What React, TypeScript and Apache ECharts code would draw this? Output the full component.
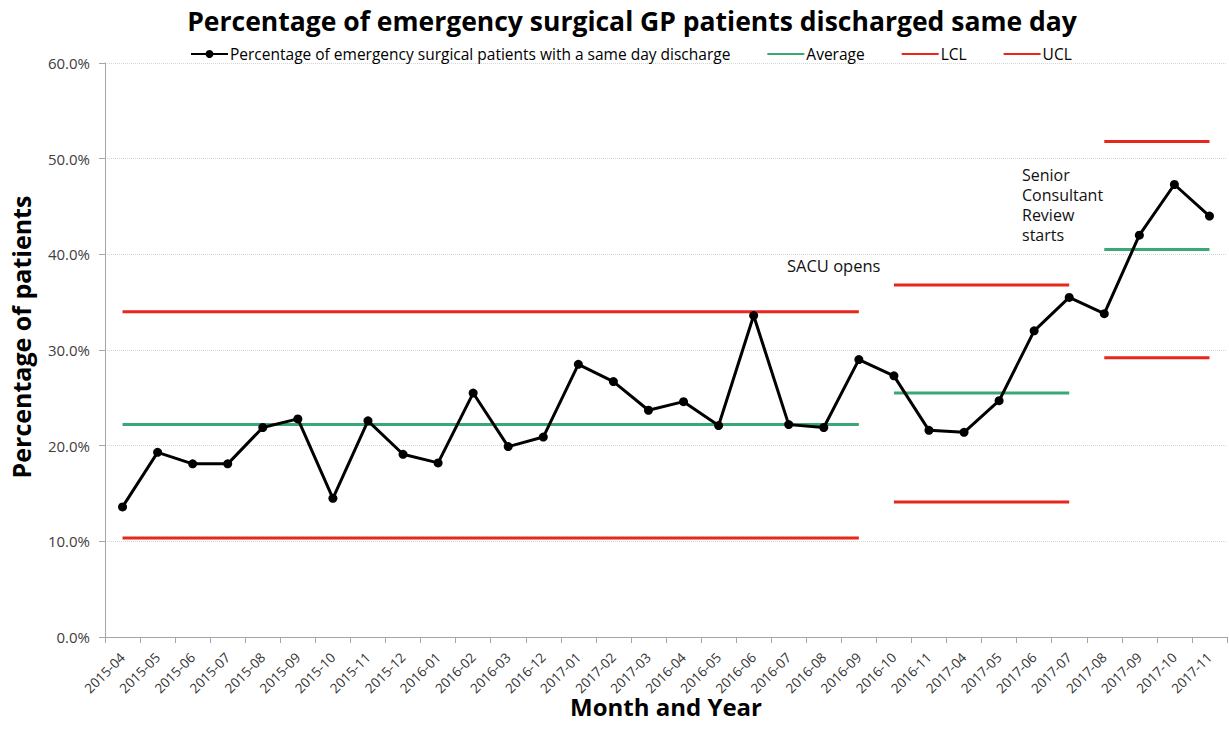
import React, { useEffect, useRef } from "react";
import * as echarts from "echarts";

const categories = [
  "2015-04", "2015-05", "2015-06", "2015-07", "2015-08", "2015-09", "2015-10", "2015-11",
  "2015-12", "2016-01", "2016-02", "2016-03", "2016-12", "2017-01", "2017-02", "2017-03",
  "2016-04", "2016-05", "2016-06", "2016-07", "2016-08", "2016-09", "2016-10", "2016-11",
  "2017-04", "2017-05", "2017-06", "2017-07", "2017-08", "2017-09", "2017-10", "2017-11",
];

const sameDayPct = [
  13.6, 19.3, 18.1, 18.1, 21.9, 22.8, 14.5, 22.6,
  19.1, 18.2, 25.5, 19.9, 20.9, 28.5, 26.7, 23.7,
  24.6, 22.1, 33.6, 22.2, 21.9, 29.0, 27.3, 21.6,
  21.4, 24.7, 32.0, 35.5, 33.8, 42.0, 47.3, 44.0,
];

// phases: start and end category index (inclusive)
const phaseStart = [0, 22, 28];
const phaseEnd = [21, 27, 31];
const avgValues = [22.2, 25.5, 40.5];
const lclValues = [10.35, 14.1, 29.2];
const uclValues = [34.0, 36.8, 51.8];

const yTicks = [0, 10, 20, 30, 40, 50, 60];

const annotationLines = ["Senior", "Consultant", "Review", "starts"];

const FONT = "'Open Sans', sans-serif";

function phaseData(vals: number[], p: number) {
  return categories.map((_, i) => (i >= phaseStart[p] && i <= phaseEnd[p] ? vals[p] : null));
}

export default function App() {
  const ref = useRef<HTMLDivElement>(null);
  useEffect(() => {
    const chart = echarts.init(ref.current!, undefined, { renderer: "svg" });
    const ctrlSeries: any[] = [];
    const defs = [
      { name: "Average", vals: avgValues, color: "#3aa876" },
      { name: "LCL", vals: lclValues, color: "#e8261c" },
      { name: "UCL", vals: uclValues, color: "#e8261c" },
    ];
    defs.forEach((d) => {
      phaseStart.forEach((_, p) => {
        ctrlSeries.push({
          name: d.name,
          type: "line",
          data: phaseData(d.vals, p),
          symbol: "none",
          connectNulls: false,
          lineStyle: { color: d.color, width: 3 },
          itemStyle: { color: d.color },
          z: 2,
        });
      });
    });
    chart.setOption({
      animation: false,
      backgroundColor: "#fff",
      title: {
        text: "Percentage of emergency surgical GP patients discharged same day",
        left: 627,
        textAlign: "center",
        top: 2,
        textStyle: { fontFamily: FONT, fontWeight: "bold", fontSize: 26.5, color: "#000" },
      },
      legend: {
        top: 41,
        left: 185,
        itemWidth: 37,
        itemHeight: 10,
        itemGap: 36,
        textStyle: { fontFamily: FONT, fontSize: 15.5, color: "#000", padding: [0, 0, 0, -3] },
        data: [
          { name: "Percentage of emergency surgical patients with a same day discharge" },
          { name: "Average", itemStyle: { opacity: 0 } },
          { name: "LCL", itemStyle: { opacity: 0 } },
          { name: "UCL", itemStyle: { opacity: 0 } },
        ],
      },
      grid: { left: 103, right: 2, top: 63, bottom: 114, containLabel: false },
      xAxis: {
        type: "category",
        data: categories,
        boundaryGap: true,
        name: "Month and Year",
        nameLocation: "middle",
        nameGap: 57,
        nameMoveOverlap: false,
        nameTextStyle: { fontFamily: FONT, fontWeight: "bold", fontSize: 24, color: "#000" },
        axisLine: { lineStyle: { color: "#a6a6a6" } },
        axisTick: { show: true, alignWithLabel: false, length: 6, lineStyle: { color: "#a6a6a6" } },
        axisLabel: {
          rotate: 45,
          interval: 0,
          fontFamily: FONT,
          fontSize: 13.5,
          color: "#333",
          margin: 18,
        },
      },
      yAxis: {
        type: "value",
        min: 0,
        max: 60,
        interval: 10,
        name: "Percentage of patients",
        nameLocation: "middle",
        nameGap: 72,
        nameMoveOverlap: false,
        nameTextStyle: { fontFamily: FONT, fontWeight: "bold", fontSize: 25, color: "#000", padding: [0, 0, 0, 26] },
        axisLine: { show: true, lineStyle: { color: "#a6a6a6" } },
        axisTick: { show: true, length: 6, lineStyle: { color: "#a6a6a6" } },
        axisLabel: {
          fontFamily: FONT,
          fontSize: 15,
          color: "#404040",
          margin: 15,
          formatter: (v: number) => (yTicks.includes(v) ? v.toFixed(1) + "%" : ""),
        },
        splitLine: { show: true, lineStyle: { color: "#d6d6d6", type: "dotted" } },
      },
      graphic: [
        {
          type: "text",
          left: 787,
          top: 254,
          style: { text: "SACU opens", fontFamily: FONT, fontSize: 16.5, lineHeight: 22, fill: "#111" },
        },
        ...annotationLines.map((t, i) => ({
          type: "text",
          left: 1022,
          top: 165 + i * 20,
          style: { text: t, fontFamily: FONT, fontSize: 16, lineHeight: 19, fill: "#111" },
        })),
      ],
      series: [
        {
          name: "Percentage of emergency surgical patients with a same day discharge",
          type: "line",
          data: sameDayPct,
          symbol: "circle",
          symbolSize: 9,
          lineStyle: { color: "#000", width: 3 },
          itemStyle: { color: "#000" },
          z: 5,
        },
        ...ctrlSeries,
      ],
    });
    return () => chart.dispose();
  }, []);
  return <div ref={ref} style={{ width: 1229, height: 751, position: "absolute", left: 0, top: 0 }} />;
}
